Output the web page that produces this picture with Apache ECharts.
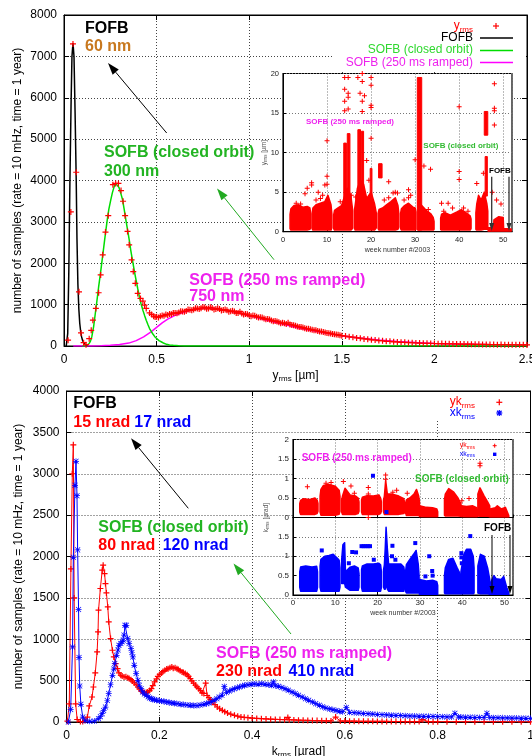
<!DOCTYPE html>
<html>
<head>
<meta charset="utf-8">
<script src="https://cdn.jsdelivr.net/npm/echarts@6.0.0/dist/echarts.min.js"></script>
<style>html,body{margin:0;padding:0;background:#fff}#chart{width:532px;height:756px}</style>
</head>
<body>
<div id="chart"></div>
<script>
const FONT = '"Liberation Sans", Arial, Helvetica, sans-serif';
const PLUS = 'path://M4,0H6V4H10V6H6V10H4V6H0V4H4Z';
const STAR = 'path://M4.4,0H5.6V4.4H10V5.6H5.6V10H4.4V5.6H0V4.4H4.4Z M1.2,0.4L5,4.2L8.8,0.4L9.6,1.2L5.8,5L9.6,8.8L8.8,9.6L5,5.8L1.2,9.6L0.4,8.8L4.2,5L0.4,1.2Z';

// axis ranges: [min, max, interval]
const yrmsRange = [0, 2.5, 0.5];
const yrmsCountRange = [0, 8000, 1000];
const krmsRange = [0, 1, 0.2];
const krmsCountRange = [0, 4000, 500];
const weekRange = [0, 52, 10];
const yrmsWeekRange = [0, 20, 5];
const krmsWeekRange = [0, 2, 0.5];

// vertical orbit rms histogram, y_rms [um] -> samples
const yrmsHist = [
[0.022,140],[0.037,3240],[0.0485,7300],[0.066,4200],[0.081,1310],[0.092,316],[0.106,80],[0.119,32],
[0.136,178],[0.147,380],[0.156,623],[0.172,907],[0.187,1287],[0.198,1717],[0.209,2203],[0.224,2753],[0.239,3150],
[0.264,3900],[0.279,3930],[0.294,3930],[0.308,3757],[0.319,3498],[0.33,3150],[0.343,2770],[0.352,2445],[0.365,2080],
[0.374,1798],[0.385,1514],[0.398,1271],[0.413,1150],[0.426,1085],[0.435,988],[0.444,907],[0.462,800],[0.473,762],
[0.484,720],[0.492,702],
[0.50,705],[0.51,690],[0.52,718],[0.53,735],[0.54,730],[0.55,760],[0.56,752],[0.57,775],[0.58,768],[0.59,800],
[0.60,795],[0.61,790],[0.62,808],[0.63,840],[0.64,835],[0.65,830],[0.66,848],[0.67,880],[0.68,875],[0.69,862],
[0.70,880],[0.71,915],[0.72,905],[0.73,892],[0.74,912],[0.75,940],[0.76,930],[0.77,898],[0.78,905],[0.79,935],
[0.80,918],[0.81,885],[0.82,896],[0.83,910],[0.84,892],[0.85,860],[0.86,868],[0.87,880],[0.88,862],[0.89,828],
[0.90,838],[0.91,850],[0.92,832],[0.93,795],[0.94,800],[0.95,830],[0.96,788],[0.97,760],[0.98,772],[0.99,770],
[1.00,742],[1.01,722],[1.02,735],[1.03,730],[1.04,708],[1.05,690],[1.06,695],[1.07,688],[1.08,662],[1.09,645],
[1.10,655],[1.11,640],[1.12,618],[1.13,598],[1.14,605],[1.15,595],[1.16,575],[1.17,552],[1.18,560],[1.19,548],
[1.20,530],[1.21,560],[1.22,522],[1.23,510],[1.24,502],[1.25,492],[1.26,474],[1.27,462],[1.28,458],[1.29,446],
[1.30,428],[1.31,418],[1.32,415],[1.33,402],[1.34,390],[1.35,382],[1.36,378],[1.37,362],[1.38,352],[1.39,348],
[1.40,340],[1.41,326],[1.42,315],[1.43,310],[1.44,303],[1.45,290],[1.46,282],[1.47,276],[1.48,270],[1.49,258],
[1.50,250],[1.52,240],[1.54,222],[1.56,214],[1.58,196],[1.60,188],[1.62,172],[1.64,166],
[1.66,150],[1.68,145],[1.70,130],[1.72,127],[1.74,114],[1.76,112],[1.78,100],[1.80,99],[1.82,90],[1.84,88],
[1.86,80],[1.88,79],[1.90,72],[1.92,70],[1.94,66],[1.96,65],[1.98,62],[2.00,60],[2.02,57],[2.04,58],[2.06,53],
[2.08,54],[2.10,50],[2.12,49],[2.14,46],[2.16,47],[2.18,43],[2.20,44],[2.22,40],[2.24,41],[2.26,37],[2.28,38],
[2.30,35],[2.32,36],[2.34,33],[2.36,34],[2.38,31],[2.40,32],[2.42,30],[2.44,30],[2.46,28],[2.48,29],[2.50,27]
];

// fitted distributions
const fofbFit = [
[0.012,0],[0.015,20],[0.02,300],[0.026,1800],[0.032,4000],[0.038,5800],[0.043,7000],[0.0485,7320],[0.054,7000],
[0.06,5600],[0.066,4000],[0.07,2600],[0.075,1500],[0.08,900],[0.085,550],[0.09,350],[0.095,220],[0.1,140],
[0.106,80],[0.114,40],[0.12,20],[0.125,10]
];
const sofbClosedFit = [
[0.1,0],[0.114,3],[0.125,20],[0.136,60],[0.143,120],[0.15,220],[0.16,470],[0.169,785],[0.178,1100],[0.187,1430],
[0.197,1760],[0.206,2080],[0.215,2400],[0.224,2730],[0.233,3030],[0.242,3300],[0.252,3520],[0.261,3700],[0.27,3840],
[0.279,3930],[0.288,3920],[0.297,3830],[0.306,3700],[0.316,3540],[0.325,3300],[0.334,3050],[0.343,2810],[0.352,2570],
[0.361,2300],[0.371,2040],[0.38,1810],[0.389,1595],[0.398,1390],[0.407,1190],[0.416,1020],[0.426,866],[0.435,740],
[0.444,624],[0.453,520],[0.462,421],[0.472,345],[0.481,283],[0.49,225],[0.499,178],[0.513,130],[0.527,97],
[0.54,65],[0.554,40],[0.57,25],[0.59,16],[0.62,6],[0.65,2],[0.7,0],[1.0,0],[1.5,0],[2.0,0],[2.5,0]
];
const sofbRampedFit = [
[0.05,0],[0.1,0],[0.15,2],[0.2,8],[0.25,18],[0.3,35],[0.35,70],[0.39,130],[0.43,220],[0.47,340],[0.5,450],
[0.53,560],[0.56,650],[0.6,740],[0.65,820],[0.7,880],[0.75,912],[0.8,910],[0.85,885],[0.9,840],[0.95,790],
[1.0,730],[1.05,675],[1.1,615],[1.15,560],[1.2,505],[1.25,455],[1.3,405],[1.35,360],[1.4,320],[1.45,283],
[1.5,250],[1.55,220],[1.6,193],[1.65,168],[1.7,147],[1.8,111],[1.9,84],[2.0,63],[2.1,50],[2.2,40],[2.3,32],
[2.4,26],[2.5,21]
];

// orbit angle rms histograms, k_rms [urad] -> samples
const ykHist = [
[0.002,10],[0.006,220],[0.0095,1850],[0.0125,3000],[0.0147,3350],[0.0165,1500],[0.0197,220],[0.023,30],[0.03,5],
[0.035,5],[0.04,20],[0.045,60],[0.049,194],[0.055,302],[0.058,423],[0.062,593],[0.066,847],[0.068,1089],
[0.069,1351],[0.073,1613],[0.077,1835],[0.079,1895],[0.082,1794],[0.084,1673],[0.086,1560],[0.089,1391],
[0.091,1210],[0.095,1008],[0.099,867],[0.102,786],[0.106,706],[0.11,645],[0.113,593],[0.117,565],[0.12,555],
[0.124,544],[0.128,548],[0.132,536],[0.135,525],[0.139,512],[0.142,495],[0.146,472],[0.15,450],[0.154,423],
[0.157,400],[0.161,375],[0.165,360],[0.168,351],[0.172,355],[0.175,363],[0.179,380],[0.183,403],[0.186,440],
[0.19,484],[0.194,520],[0.197,552],[0.201,575],[0.205,593],[0.208,610],[0.212,625],[0.216,640],[0.219,645],
[0.223,655],[0.227,665],[0.23,650],[0.234,657],[0.238,645],[0.241,633],[0.245,620],[0.249,605],[0.252,598],
[0.256,585],[0.26,570],[0.263,552],[0.267,525],[0.27,496],[0.274,470],[0.278,444],[0.281,425],[0.285,403],
[0.289,380],[0.292,351],[0.296,345],[0.3,470],[0.303,320],[0.307,294],[0.31,270],[0.314,242],[0.32,210],
[0.325,181],[0.33,160],[0.336,141],[0.341,125],[0.347,109],[0.354,95],[0.362,81],[0.369,70],[0.376,60],
[0.383,56],[0.391,52],[0.40,47],[0.41,43],[0.42,40],[0.43,37],[0.44,34],[0.45,31],[0.46,30],[0.47,28],
[0.477,55],[0.48,27],[0.49,25],[0.50,22],[0.51,21],[0.52,19],[0.53,18],[0.54,17],[0.55,15],[0.56,14],[0.57,13],
[0.58,60],[0.59,12],[0.60,11],[0.61,10],[0.62,10],[0.63,9],[0.64,9],[0.65,8],[0.66,8],[0.67,7],[0.68,7],
[0.69,7],[0.70,6],[0.71,6],[0.72,6],[0.73,5],[0.74,5],[0.75,5],[0.76,5],[0.768,28],[0.78,5],[0.79,4],[0.80,4],
[0.82,4],[0.84,4],[0.86,3],[0.88,3],[0.90,3],[0.92,3],[0.94,3],[0.96,2],[0.98,2],[1.0,2]
];
const xkHist = [
[0.004,0],[0.009,150],[0.013,907],[0.0147,1990],[0.0183,2860],[0.0205,3150],[0.0226,2735],[0.024,2080],
[0.026,1360],[0.027,780],[0.0285,435],[0.031,214],[0.035,60],[0.04,15],[0.05,8],[0.06,12],[0.069,40],[0.073,65],
[0.077,100],[0.08,140],[0.084,181],[0.088,260],[0.091,343],[0.095,450],[0.099,564],[0.102,640],[0.104,706],
[0.108,806],[0.111,870],[0.113,927],[0.117,948],[0.12,970],[0.122,988],[0.124,1050],[0.126,1169],[0.129,1169],
[0.132,1008],[0.135,948],[0.139,887],[0.141,840],[0.143,786],[0.146,685],[0.15,585],[0.154,504],[0.157,444],
[0.161,403],[0.164,363],[0.168,340],[0.172,323],[0.176,305],[0.179,290],[0.183,280],[0.186,274],[0.19,268],
[0.194,262],[0.2,258],[0.205,254],[0.21,248],[0.216,242],[0.221,236],[0.227,230],[0.232,226],[0.238,222],
[0.245,215],[0.252,210],[0.26,205],[0.267,202],[0.274,200],[0.281,198],[0.288,205],[0.296,214],[0.302,222],
[0.307,230],[0.313,245],[0.318,262],[0.324,282],[0.329,302],[0.335,322],[0.34,430],[0.345,358],[0.351,375],
[0.357,390],[0.362,403],[0.368,413],[0.373,423],[0.379,435],[0.384,444],[0.391,450],[0.398,456],[0.405,460],
[0.413,456],[0.42,462],[0.428,456],[0.435,450],[0.442,444],[0.446,484],[0.45,438],[0.457,431],[0.464,418],
[0.471,403],[0.478,384],[0.486,363],[0.493,343],[0.5,323],[0.508,302],[0.515,282],[0.522,262],[0.53,242],
[0.537,222],[0.545,202],[0.552,185],[0.559,169],[0.567,158],[0.574,149],[0.581,138],[0.588,129],[0.595,125],
[0.603,175],[0.61,118],[0.62,112],[0.63,108],[0.64,104],[0.65,100],[0.66,96],[0.67,92],[0.68,89],[0.69,86],
[0.70,82],[0.71,80],[0.72,78],[0.73,75],[0.74,73],[0.75,71],[0.76,70],[0.77,69],[0.78,68],[0.79,66],[0.80,65],
[0.81,64],[0.82,62],[0.83,61],[0.837,105],[0.845,60],[0.85,59],[0.86,58],[0.87,57],[0.88,56],[0.89,55],[0.90,54],
[0.906,105],[0.912,53],[0.92,52],[0.93,51],[0.94,50],[0.95,49],[0.96,48],[0.97,47],[0.98,46],[0.99,45],[1.0,44]
];

// weekly overview: dense sample bands as [week, low, high] outlines
const yrmsWeekBands = [
[[1.6,0.4,2.2],[1.8,0.2,2.9],[2.5,0.2,3.3],[3.5,0.2,3.4],[4.5,0.2,3.1],[5.5,0.2,3.2],[6.1,0.3,3.0],[6.3,0.5,2.2]],
[[6.6,0.4,2.3],[6.8,0.2,3.0],[7.5,0.2,3.4],[8.5,0.2,3.6],[9.5,0.2,3.8],[10.2,0.2,4.6],[10.9,0.2,3.4],[11.1,0.5,2.2]],
[[11.5,0.4,2.1],[11.7,0.2,2.7],[12.5,0.2,3.0],[13.3,0.2,3.3],[14.0,0.2,4.5],[14.6,0.2,5.5],[15.4,0.2,4.6],[15.8,0.4,2.8]],
[[16.2,0.5,2.6],[16.4,0.2,3.4],[16.9,0.2,5.5],[17.6,0.2,6.5],[18.3,0.2,6.0],[19.0,0.2,4.2],[20.0,0.2,5.0],[20.8,0.2,3.5],[21.2,0.5,2.3]],
[[21.6,0.4,2.3],[21.8,0.2,2.8],[22.6,0.2,3.0],[23.5,0.2,3.4],[24.5,0.2,3.8],[25.5,0.2,4.3],[26.1,0.3,3.3],[26.3,0.6,2.3]],
[[26.7,0.4,2.3],[26.9,0.2,2.9],[27.6,0.2,3.3],[28.5,0.2,3.6],[29.5,0.2,3.1],[30.0,0.2,3.0],[30.2,0.3,2.5]],
[[30.7,0.2,3.8],[31.5,0.2,3.3],[32.5,0.2,2.7],[33.5,0.2,2.3],[34.1,0.2,1.8],[34.3,0.3,1.3]],
[[35.8,0.3,1.7],[36.0,0.2,2.2],[36.8,0.2,2.4],[38.0,0.2,2.1],[39.5,0.2,2.5],[40.5,0.2,2.8],[41.5,0.2,2.4],[42.5,0.2,2.0],[42.7,0.4,1.6]],
[[43.8,0.3,2.4],[44.0,0.2,3.5],[44.4,0.2,4.6],[45.0,0.2,4.0],[45.7,0.3,5.0],[46.3,0.3,3.5],[46.5,0.3,2.6]],
[[46.6,0.05,0.5],[47.8,0.05,0.5],[47.9,0.05,1.5],[49.0,0.05,1.9],[50.0,0.05,1.8],[50.1,0.05,0.4],[51.8,0.05,0.35]]
];
// dense single-week columns: [weekFrom, weekTo, low, high]
const yrmsWeekColumns = [
[13.8,14.4,2,11.2],[14.6,15.2,2,12.4],[17.0,17.6,2,12.9],[17.8,18.3,2,12.7],[19.8,20.2,2,8.0],
[21.7,22.5,6.8,8.6],[30.5,31.5,0.2,19.5],[45.7,46.5,12.2,15.2],[45.9,46.4,4.5,9.5]
];
const yrmsWeekOutliers = [
[14,15.3],[14,16.5],[14,18],[14,19.5],[14.8,19.5],[14.8,17.5],[14.8,17],[14.8,15.5],[17,19.5],[17.5,17.5],
[18,20],[18,19],[18,16.5],[18,15.2],[18.5,17.2],[20,19.5],[20,18.5],[20,16],[20,15.7],[20,11.8],[10,11.5],
[10,7],[10,6],[9.5,5.9],[6.5,6.2],[6.5,5.9],[5,4.8],[5.5,5.5],[8,5],[19,9],[19.5,6.5],[24,6.3],[25.5,5],
[26,4.9],[28.5,5.3],[30,9.1],[32,8.3],[33.5,7.9],[36,3.6],[37.5,3.6],[38.5,3],[40,15.8],[40,7.6],[40,6.6],
[44,6.1],[45.5,7.4],[48,18.7],[48,15.6],[48,15.3],[48,13.5],[47.5,5],[48.5,4],[49.5,3.5],
[3,3.6],[4,3.5],[7.5,4.0],[8.5,4.2],[9,4.6],[13,3.8],[15.5,4.6],[16.5,4.4],[23,4.0],[24,4.3],[25,4.9],
[27.5,4.0],[28.5,4.3],[29,4.6],[33,2.8],[36.5,2.6],[41,3.0],[42,2.6]
];
const ykWeekBands = [
[[1.6,0.14,0.36],[1.8,0.08,0.44],[2.5,0.08,0.48],[4.0,0.08,0.46],[5.2,0.08,0.5],[5.7,0.1,0.45],[5.9,0.16,0.36]],
[[6.4,0.14,0.55],[6.6,0.06,0.72],[7.2,0.06,0.82],[8.5,0.06,0.85],[10.0,0.06,0.8],[10.9,0.08,0.7],[11.1,0.16,0.55]],
[[11.5,0.14,0.45],[11.7,0.08,0.55],[12.3,0.08,0.75],[13.5,0.08,0.58],[14.8,0.08,0.55],[15.4,0.1,0.5],[15.6,0.16,0.4]],
[[16.2,0.14,0.45],[16.4,0.08,0.52],[17.5,0.08,0.56],[19.0,0.08,0.55],[20.3,0.08,0.58],[20.7,0.1,0.5],[20.9,0.16,0.4]],
[[21.4,0.14,0.45],[21.6,0.08,0.55],[21.9,0.08,0.95],[22.3,0.08,0.6],[23.5,0.08,0.6],[25.0,0.08,0.55],[26.2,0.1,0.48],[26.4,0.14,0.36]],
[[26.6,0.12,0.36],[26.8,0.05,0.45],[27.6,0.05,0.5],[28.6,0.05,0.6],[29.2,0.05,0.72],[29.7,0.05,0.55],[29.9,0.06,0.4]],
[[29.9,0.02,0.3],[31.5,0.01,0.26],[33.0,0.01,0.25],[34.0,0.01,0.22],[34.2,0.03,0.15]],
[[35.8,0.06,0.45],[36.0,0.04,0.6],[36.8,0.04,0.74],[38.0,0.04,0.65],[39.0,0.04,0.5],[39.7,0.03,0.35]],
[[39.7,0.02,0.3],[41.0,0.01,0.28],[42.5,0.01,0.3],[43.4,0.01,0.25],[43.6,0.03,0.18]],
[[43.7,0.04,0.6],[44.2,0.03,0.76],[45.2,0.03,0.55],[46.0,0.03,0.4],[46.5,0.02,0.3]],
[[46.6,0.0,0.22],[47.8,0.0,0.25],[48.3,0.0,0.3],[49.2,0.0,0.22],[50.2,0.0,0.26],[51.0,0.0,0.05]]
];
const ykWeekOutliers = [
[3.4,0.79],[7.8,0.88],[11.9,0.92],[13.7,0.81],[17.8,0.77],[17.8,0.6],[17.8,0.0],[21.9,1.09],[21.9,0.98],
[23.6,0.65],[39.9,0.43],[41.6,0.49],[44.2,1.39],[44.2,1.33],[44.4,0.54],[9,0.9],[14.5,0.62],[24.5,0.7],[27,0.62]
];
const xkInYkPanel = [[18.9,1.07],[22.1,0.14]];
const xkWeekBands = [
[[1.6,0.2,0.6],[1.8,0.1,0.72],[3.0,0.1,0.75],[4.5,0.1,0.72],[5.6,0.1,0.74],[5.8,0.2,0.6]],
[[6.4,0.2,0.75],[6.6,0.1,0.92],[7.5,0.1,1.0],[8.5,0.1,1.02],[9.5,0.1,1.05],[10.5,0.1,0.95],[10.9,0.1,0.9],[11.1,0.2,0.7]],
[[11.5,0.3,0.9],[11.8,0.3,1.3],[12.2,0.3,1.35],[12.4,0.2,0.6],[13.5,0.12,0.72],[14.5,0.12,0.75],[15.4,0.12,0.7],[15.6,0.2,0.55]],
[[16.2,0.2,0.65],[16.4,0.1,0.75],[17.5,0.1,0.8],[19.0,0.1,0.8],[20.3,0.1,0.82],[20.7,0.1,0.78],[20.9,0.2,0.6]],
[[21.4,0.2,0.65],[21.6,0.15,0.78],[21.8,0.15,1.2],[22.0,0.3,1.75],[22.3,0.15,1.2],[22.6,0.1,0.8],[24.0,0.1,0.8],[25.5,0.1,0.8],[26.2,0.1,0.72],[26.4,0.2,0.55]],
[[26.6,0.1,0.6],[26.8,0.05,0.78],[27.5,0.05,0.9],[28.5,0.05,1.05],[29.1,0.05,1.15],[29.6,0.05,0.8],[29.8,0.05,0.5]],
[[29.9,0.0,0.4],[31.5,0.0,0.36],[33.0,0.0,0.38],[34.0,0.0,0.34],[34.2,0.02,0.25]],
[[35.8,0.05,0.5],[36.0,0.03,0.7],[36.8,0.03,0.92],[37.8,0.03,0.95],[38.8,0.03,0.7],[39.7,0.03,0.5]],
[[39.7,0.03,0.6],[40.4,0.03,1.05],[41.0,0.03,1.18],[42.0,0.03,1.18],[42.6,0.03,1.0],[42.8,0.05,0.7]],
[[43.7,0.05,0.75],[44.3,0.03,1.05],[45.2,0.03,1.0],[46.0,0.03,0.7],[46.5,0.02,0.4]],
[[46.6,0.0,0.3],[47.5,0.0,0.5],[48.0,0.0,0.42],[49.2,0.0,0.4],[49.8,0.0,0.48],[50.5,0.0,0.2],[51.0,0.0,0.05]]
];
const xkWeekOutliers = [
[6.8,1.15],[14,1.11],[14.9,1.1],[16.2,1.26],[16.7,1.26],[17.2,1.26],[17.7,1.26],[18.2,1.26],[19.1,0.91],
[23.5,1.27],[23.4,1.0],[24.2,0.91],[28.9,1.34],[31.3,0.48],[32.9,0.62],[33,0.5],[32.2,1.0],[39.8,1.08],
[39.8,0.97],[39.9,0.82],[41.9,1.52],[13.2,0.82]
];

const RED = '#ff0000', BLUE = '#0000ff', GREEN_LINE = '#00dd00', MAGENTA = '#ff00ff';
const COUNT_LABEL = 'number of samples (rate = 10 mHz, time = 1 year)';

function bandRenderer(bands, color) {
  return function (params, api) {
    const b = bands[params.dataIndex];
    const up = b.map(p => api.coord([p[0], p[2]]));
    const dn = b.slice().reverse().map(p => api.coord([p[0], p[1]]));
    return { type: 'polygon', shape: { points: up.concat(dn) },
      style: { fill: color, stroke: color, lineWidth: 1.5, lineJoin: 'round' } };
  };
}
function columnRenderer(color) {
  return function (params, api) {
    const a = api.coord([api.value(0), api.value(3)]);
    const c = api.coord([api.value(1), api.value(2)]);
    return { type: 'rect', shape: { x: a[0], y: a[1], width: c[0] - a[0], height: c[1] - a[1] },
      style: { fill: color, stroke: color, lineWidth: 1 } };
  };
}
const fmt = v => String(+v.toFixed(2));

function mainAxisX(grid, range, name) {
  return [{
    type: 'value', gridIndex: grid, min: range[0], max: range[1], interval: range[2], position: 'bottom',
    axisLine: { show: true, onZero: false, lineStyle: { color: '#000', width: 1 } },
    axisTick: { show: true, inside: true, length: 5, lineStyle: { color: '#000' } },
    axisLabel: { show: true, color: '#000', fontSize: 12, margin: 8, formatter: fmt },
    splitLine: { show: true, lineStyle: { color: '#444', type: [1, 2], width: 1 } },
    name: name, nameLocation: 'middle', nameGap: 22,
    nameTextStyle: { color: '#000', fontSize: 12, rich: { s: { fontSize: 8, padding: [7, 0, 0, 0] } } }
  }, {
    type: 'value', gridIndex: grid, min: range[0], max: range[1], interval: range[2], position: 'top',
    axisLine: { show: true, onZero: false, lineStyle: { color: '#000', width: 1 } },
    axisTick: { show: true, inside: true, length: 5, lineStyle: { color: '#000' } },
    axisLabel: { show: false }, splitLine: { show: false }
  }];
}
function mainAxisY(grid, range) {
  return [{
    type: 'value', gridIndex: grid, min: range[0], max: range[1], interval: range[2], position: 'left',
    axisLine: { show: true, onZero: false, lineStyle: { color: '#000', width: 1 } },
    axisTick: { show: true, inside: true, length: 5, lineStyle: { color: '#000' } },
    axisLabel: { show: true, color: '#000', fontSize: 12, margin: 7, formatter: fmt },
    splitLine: { show: true, lineStyle: { color: '#444', type: [1, 2], width: 1 } }
  }, {
    type: 'value', gridIndex: grid, min: range[0], max: range[1], interval: range[2], position: 'right',
    axisLine: { show: true, onZero: false, lineStyle: { color: '#000', width: 1 } },
    axisTick: { show: true, inside: true, length: 5, lineStyle: { color: '#000' } },
    axisLabel: { show: false }, splitLine: { show: false }
  }];
}
function insetAxisX(grid, range, fontSize, showLabels) {
  return {
    type: 'value', gridIndex: grid, min: range[0], max: range[1], interval: range[2], position: 'bottom', z: 11,
    axisLine: { show: true, onZero: false, lineStyle: { color: '#000', width: 1 } },
    axisTick: { show: true, inside: true, length: 3, lineStyle: { color: '#000' } },
    axisLabel: { show: showLabels, color: '#222', fontSize: fontSize, margin: 4, showMaxLabel: false,
      formatter: v => (v % range[2] === 0 ? String(v) : '') },
    splitLine: { show: true, lineStyle: { color: '#777', type: [1, 2], width: 1 } },
    name: showLabels ? 'week number #/2003' : '', nameLocation: 'middle', nameGap: 15,
    nameTextStyle: { color: '#333', fontSize: 7 }
  };
}
function insetAxisY(grid, range, fontSize, extra) {
  return Object.assign({
    type: 'value', gridIndex: grid, min: range[0], max: range[1], interval: range[2], position: 'left', z: 11,
    axisLine: { show: true, onZero: false, lineStyle: { color: '#000', width: 1 } },
    axisTick: { show: true, inside: true, length: 3, lineStyle: { color: '#000' } },
    axisLabel: { show: true, color: '#222', fontSize: fontSize, margin: 4, formatter: fmt },
    splitLine: { show: true, lineStyle: { color: '#777', type: [1, 2], width: 1 } }
  }, extra || {});
}

function txt(x, y, text, size, color, o) {
  o = o || {};
  const el = { type: 'text', z: 100, x: x, y: y, rotation: o.rotation || 0,
    style: { x: 0, y: 0, text: text, fontSize: size, fontFamily: FONT, fontWeight: o.bold ? 'bold' : 'normal',
      fill: color, align: o.align || 'left', verticalAlign: 'middle' } };
  if (o.rich) el.style.rich = o.rich;
  return el;
}
function sub(size, subSize, color, pad) {
  return { a: { fontSize: size, fill: color, fontFamily: FONT }, s: { fontSize: subSize, fill: color, fontFamily: FONT, padding: [pad, 0, 0, 0] } };
}
function line(x1, y1, x2, y2, color, w) {
  return { type: 'line', z: 100, shape: { x1, y1, x2, y2 }, style: { stroke: color, lineWidth: w || 1 } };
}
function arrow(x1, y1, x2, y2, color, L, W, lw) {
  L = L || 12; W = W || 4;
  const a = Math.atan2(y2 - y1, x2 - x1);
  const bx = x2 - L * Math.cos(a), by = y2 - L * Math.sin(a);
  const px = -Math.sin(a) * W, py = Math.cos(a) * W;
  return [line(x1, y1, bx, by, color, lw || 1),
    { type: 'polygon', z: 100, shape: { points: [[x2, y2], [bx + px, by + py], [bx - px, by - py]] }, style: { fill: color } }];
}
function plusMark(x, y, r, color, w) {
  return [line(x - r, y, x + r, y, color, w), line(x, y - r, x, y + r, color, w)];
}
function starMark(x, y, r, color, w) {
  const d = r * 0.75;
  return plusMark(x, y, r, color, w).concat([line(x - d, y - d, x + d, y + d, color, w), line(x - d, y + d, x + d, y - d, color, w)]);
}

const GREEN_TXT = '#22b422', MAG_TXT = '#ee22ee', ORANGE = '#c8781e';

const graphics = [
  // y-axis titles of both histograms
  txt(18, 180.5, COUNT_LABEL, 12, '#000', { align: 'center', rotation: Math.PI / 2 }),
  txt(19, 556.5, COUNT_LABEL, 12, '#000', { align: 'center', rotation: Math.PI / 2 }),
  // top legend
  { type: 'rect', z: 1, shape: { x: 333, y: 16, width: 193, height: 56 }, style: { fill: '#fff' } },
  txt(473, 26, '{a|y}{s|rms}', 12, RED, { align: 'right', rich: sub(12, 8, RED, 7) }),
  ...plusMark(496, 26, 3, RED, 1.2),
  txt(473, 37.5, 'FOFB', 12, '#000', { align: 'right' }),
  line(480, 38, 513, 38, '#000', 1.5),
  txt(473, 50, 'SOFB (closed orbit)', 12, '#2fd82f', { align: 'right' }),
  line(480, 50.5, 513, 50.5, GREEN_LINE, 1.5),
  txt(473, 62.5, 'SOFB (250 ms ramped)', 12, MAG_TXT, { align: 'right' }),
  line(480, 62.5, 513, 62.5, MAGENTA, 1.5),
  // top annotations
  txt(85, 28.5, 'FOFB', 16, '#000', { bold: true }),
  txt(85, 46.3, '60 nm', 16, ORANGE, { bold: true }),
  ...arrow(166.7, 133, 108, 63, '#000'),
  txt(104, 152.8, 'SOFB (closed orbit)', 16, GREEN_TXT, { bold: true }),
  txt(104, 171.7, '300 nm', 16, GREEN_TXT, { bold: true }),
  ...arrow(274, 259.7, 217, 188.5, '#22aa22'),
  txt(189.3, 280.6, 'SOFB (250 ms ramped)', 16, MAG_TXT, { bold: true }),
  txt(189.3, 297, '750 nm', 16, MAG_TXT, { bold: true }),
  // top inset annotations
  txt(306, 121.7, 'SOFB (250 ms ramped)', 8, MAG_TXT, { bold: true }),
  txt(423.3, 145.3, 'SOFB (closed orbit)', 8, '#33bb33', { bold: true }),
  txt(489, 170.3, 'FOFB', 8, '#000', { bold: true }),
  ...arrow(491.7, 176.7, 491.7, 231, '#333', 8, 2.5, 1.3),
  ...arrow(509, 176.7, 509, 231, '#333', 8, 2.5, 1.3),
  txt(264, 152.6, '{a|y}{s|rms}{a| [µm]}', 6.5, '#555', { align: 'center', rotation: Math.PI / 2, rich: sub(6.5, 4.5, '#555', 4) }),

  // bottom legend
  { type: 'rect', z: 1, shape: { x: 400, y: 392, width: 129, height: 27 }, style: { fill: '#fff' } },
  txt(475, 402, '{a|yk}{s|rms}', 12, RED, { align: 'right', rich: sub(12, 8, RED, 7) }),
  ...plusMark(499.3, 402.3, 3, RED, 1.2),
  txt(475, 413, '{a|xk}{s|rms}', 12, BLUE, { align: 'right', rich: sub(12, 8, BLUE, 7) }),
  ...starMark(499.3, 413, 3, BLUE, 1.2),
  // bottom annotations
  txt(73.3, 404, 'FOFB', 16, '#000', { bold: true }),
  txt(73.3, 422.5, '15 nrad', 16, RED, { bold: true }),
  txt(134.3, 422.5, '17 nrad', 16, BLUE, { bold: true }),
  ...arrow(188.3, 508.3, 131, 438.3, '#000'),
  txt(98.3, 527.8, 'SOFB (closed orbit)', 16, GREEN_TXT, { bold: true }),
  txt(98.3, 546, '80 nrad', 16, RED, { bold: true }),
  txt(162.7, 546, '120 nrad', 16, BLUE, { bold: true }),
  ...arrow(291, 634, 233.5, 563.4, '#22aa22'),
  txt(216.1, 653.8, 'SOFB (250 ms ramped)', 16, MAG_TXT, { bold: true }),
  txt(216.1, 671.5, '230 nrad', 16, RED, { bold: true }),
  txt(288.4, 671.5, '410 nrad', 16, BLUE, { bold: true }),
  // bottom inset annotations
  txt(301.7, 458.7, 'SOFB (250 ms ramped)', 10, MAG_TXT, { bold: true }),
  txt(415, 479.2, 'SOFB (closed orbit)', 10, '#33bb33', { bold: true }),
  txt(484, 527.8, 'FOFB', 10, '#000', { bold: true }),
  ...arrow(492, 535, 492, 594, '#000', 8, 2.5, 1),
  ...arrow(510, 535, 510, 594, '#000', 8, 2.5, 1),
  txt(475, 445.5, '{a|yk}{s|rms}', 7, RED, { align: 'right', rich: sub(7, 5, RED, 4) }),
  ...plusMark(494.7, 445.7, 2, RED, 1),
  txt(475, 454, '{a|xk}{s|rms}', 7, BLUE, { align: 'right', rich: sub(7, 5, BLUE, 4) }),
  { type: 'rect', z: 100, shape: { x: 493, y: 452.6, width: 3.4, height: 3.4 }, style: { fill: BLUE } },
  txt(266, 517.5, '{a|k}{s|rms}{a| [µrad]}', 6.5, '#555', { align: 'center', rotation: Math.PI / 2, rich: sub(6.5, 4.5, '#555', 4) })
];

const chart = echarts.init(document.getElementById('chart'), null, { renderer: 'canvas' });
chart.setOption({
  animation: false,
  backgroundColor: '#fff',
  textStyle: { fontFamily: FONT },
  grid: [
    { left: 64, top: 15, width: 463, height: 331, show: true, borderColor: '#000', borderWidth: 1, backgroundColor: 'transparent', outerBoundsMode: 'none', containLabel: false },
    { left: 283, top: 73.5, width: 229, height: 158.2, show: true, borderColor: '#000', borderWidth: 1.2, backgroundColor: '#fff', z: 10, outerBoundsMode: 'none', containLabel: false },
    { left: 66.5, top: 391, width: 464, height: 331, show: true, borderColor: '#000', borderWidth: 1, backgroundColor: 'transparent', outerBoundsMode: 'none', containLabel: false },
    { left: 293, top: 439.5, width: 220, height: 78, show: true, borderColor: '#000', borderWidth: 1.2, backgroundColor: '#fff', z: 10, outerBoundsMode: 'none', containLabel: false },
    { left: 293, top: 517.5, width: 220, height: 77.5, show: true, borderColor: '#000', borderWidth: 1.2, backgroundColor: '#fff', z: 10, outerBoundsMode: 'none', containLabel: false }
  ],
  xAxis: [
    ...mainAxisX(0, yrmsRange, 'y{s|rms} [µm]'),          // 0, 1
    insetAxisX(1, weekRange, 7.5, true),                  // 2
    ...mainAxisX(2, krmsRange, 'k{s|rms} [µrad]'),        // 3, 4
    insetAxisX(3, weekRange, 8, false),                   // 5
    insetAxisX(4, weekRange, 8, true)                     // 6
  ],
  yAxis: [
    ...mainAxisY(0, yrmsCountRange),                      // 0, 1
    insetAxisY(1, yrmsWeekRange, 7.5),                    // 2
    ...mainAxisY(2, krmsCountRange),                      // 3, 4
    insetAxisY(3, krmsWeekRange, 8),                      // 5
    insetAxisY(4, krmsWeekRange, 8, { axisLabel: { show: true, color: '#222', fontSize: 8, margin: 4, showMaxLabel: false, formatter: v => (v >= 2 ? '' : fmt(v)) } }) // 6
  ],
  series: [
    { type: 'line', name: 'SOFB (250 ms ramped)', xAxisIndex: 0, yAxisIndex: 0, data: sofbRampedFit, showSymbol: false, lineStyle: { color: MAGENTA, width: 1.5 }, z: 2 },
    { type: 'line', name: 'SOFB (closed orbit)', xAxisIndex: 0, yAxisIndex: 0, data: sofbClosedFit, showSymbol: false, lineStyle: { color: GREEN_LINE, width: 1.5 }, z: 2 },
    { type: 'line', name: 'FOFB', xAxisIndex: 0, yAxisIndex: 0, data: fofbFit, showSymbol: false, lineStyle: { color: '#000', width: 1.5 }, z: 2 },
    { type: 'scatter', name: 'y_rms', xAxisIndex: 0, yAxisIndex: 0, data: yrmsHist, symbol: PLUS, symbolSize: 6, itemStyle: { color: RED, opacity: 1 }, z: 3 },

    { type: 'custom', xAxisIndex: 2, yAxisIndex: 2, z: 12, clip: true, data: yrmsWeekBands.map(b => [b[0][0], b[0][2]]), renderItem: bandRenderer(yrmsWeekBands, RED) },
    { type: 'custom', xAxisIndex: 2, yAxisIndex: 2, z: 12, clip: true, data: yrmsWeekColumns, encode: { x: [0, 1], y: [2, 3] }, renderItem: columnRenderer(RED) },
    { type: 'scatter', xAxisIndex: 2, yAxisIndex: 2, z: 12, data: yrmsWeekOutliers, symbol: PLUS, symbolSize: 5, itemStyle: { color: RED, opacity: 1 } },

    { type: 'line', name: 'yk_rms', xAxisIndex: 3, yAxisIndex: 3, data: ykHist, symbol: PLUS, symbolSize: 6, showSymbol: true, showAllSymbol: true, lineStyle: { color: RED, width: 1 }, itemStyle: { color: RED }, z: 2 },
    { type: 'line', name: 'xk_rms', xAxisIndex: 3, yAxisIndex: 3, data: xkHist, symbol: STAR, symbolSize: 6, showSymbol: true, showAllSymbol: true, lineStyle: { color: BLUE, width: 1 }, itemStyle: { color: BLUE }, z: 3 },

    { type: 'custom', xAxisIndex: 5, yAxisIndex: 5, z: 12, clip: true, data: ykWeekBands.map(b => [b[0][0], b[0][2]]), renderItem: bandRenderer(ykWeekBands, RED) },
    { type: 'scatter', xAxisIndex: 5, yAxisIndex: 5, z: 12, data: ykWeekOutliers, symbol: PLUS, symbolSize: 5, itemStyle: { color: RED, opacity: 1 } },
    { type: 'scatter', xAxisIndex: 5, yAxisIndex: 5, z: 12, data: xkInYkPanel, symbol: 'rect', symbolSize: 4, itemStyle: { color: BLUE, opacity: 1 } },
    { type: 'custom', xAxisIndex: 6, yAxisIndex: 6, z: 12, clip: true, data: xkWeekBands.map(b => [b[0][0], b[0][2]]), renderItem: bandRenderer(xkWeekBands, BLUE) },
    { type: 'scatter', xAxisIndex: 6, yAxisIndex: 6, z: 12, data: xkWeekOutliers, symbol: 'rect', symbolSize: 4, itemStyle: { color: BLUE, opacity: 1 } }
  ],
  graphic: graphics
});
</script>
</body>
</html>
